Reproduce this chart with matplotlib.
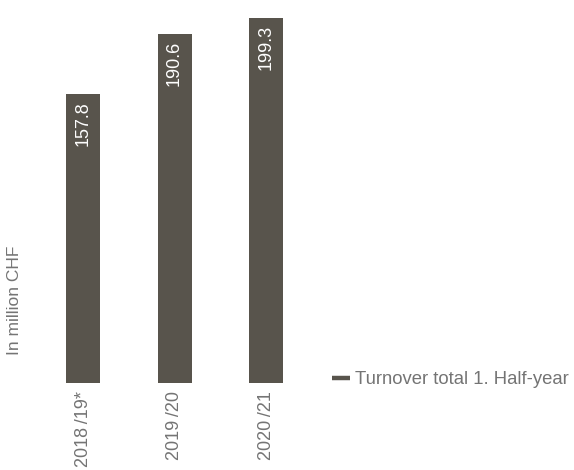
import matplotlib
matplotlib.use("Agg")
import matplotlib.pyplot as plt
from matplotlib.lines import Line2D

categories = ["2018\u2009/19*", "2019\u2009/20", "2020\u2009/21"]
values = [157.8, 190.6, 199.3]
series_name = "Turnover total 1. Half-year"
y_label = "In million CHF"

bar_color = "#58544c"
text_color = "#747474"
plt.rcParams['font.family'] = ['Liberation Sans', 'DejaVu Sans']

fig = plt.figure(figsize=(5.74, 4.70), dpi=100)
ax = fig.add_axes([40/574, (470-383)/470, 270/574, 366/470])
x = list(range(len(categories)))
bars = ax.bar(x, values, width=0.372, color=bar_color)
ax.set_xlim(-0.47, 2.48)
ax.set_ylim(0, 200)
for s in ax.spines.values():
    s.set_visible(False)
ax.set_yticks([])
ax.set_xticks(x)
ax.set_xticklabels(categories, rotation=90, fontsize=13, color=text_color, va='top')
ax.tick_params(axis='x', length=0, pad=6)

for xi, v in zip(x, values):
    ax.annotate(f"{v:.1f}", (xi, v), xytext=(0, -5), textcoords='offset points',
                rotation=90, ha='center', va='top', fontsize=13, color='white')

fig.text(15/574, (470-300)/470, y_label, rotation=90, ha='center', va='center',
         fontsize=12.5, color=text_color)

handle = Line2D([], [], color=bar_color, linewidth=3.2, solid_capstyle='butt')
fig.legend(handles=[handle], labels=[series_name], loc='center left',
           bbox_to_anchor=(332/574, (470-380)/470), frameon=False,
           handlelength=0.95, handletextpad=0.3,
           fontsize=13.3, labelcolor=text_color, borderpad=0, borderaxespad=0)

fig.savefig("out.png", dpi=100)
